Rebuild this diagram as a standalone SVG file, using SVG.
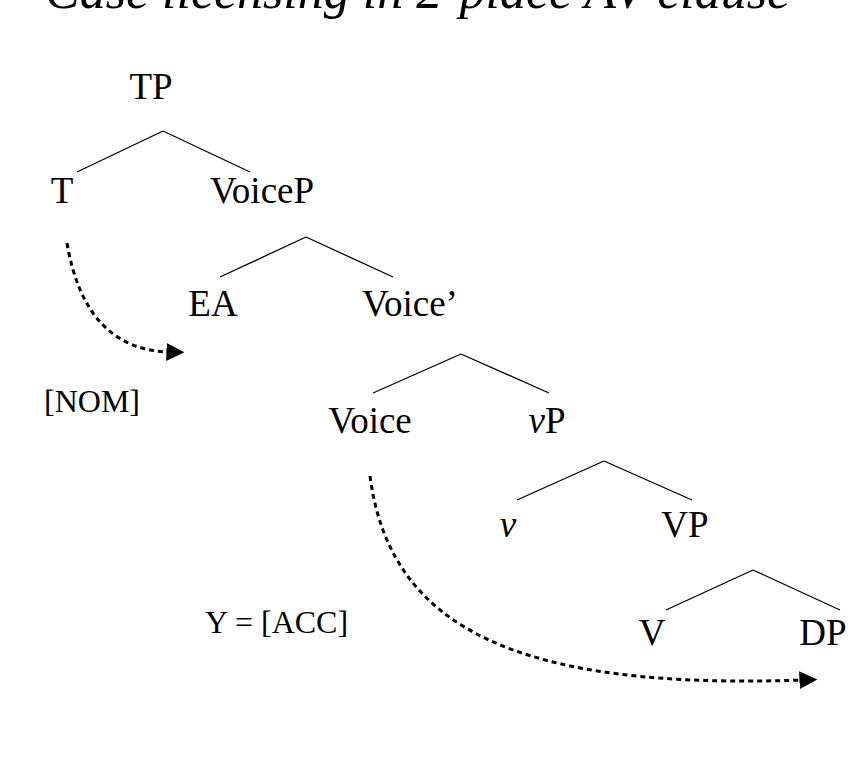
<svg xmlns="http://www.w3.org/2000/svg" width="861" height="758" viewBox="0 0 861 758">
<style>
text{font-family:"Liberation Serif","Times New Roman",serif;fill:#000}
.n{font-size:37px;text-anchor:middle}
.l{font-size:32px}
.e line{stroke:#000;stroke-width:1.3}
.a{fill:none;stroke:#000;stroke-width:3;stroke-dasharray:5 4}
</style>
<defs><marker id="ah2" viewBox="0 0 10 10" refX="2" refY="5" markerWidth="6" markerHeight="6" orient="auto"><path d="M0,0 L10,5 L0,10 z" fill="#000"/></marker></defs>
<rect width="861" height="758" fill="#fff"/>
<text x="45" y="8" font-size="52" font-style="italic">Case licensing in 2-place AV clause</text>
<g class="e">
<line x1="163" y1="131" x2="77" y2="172"/><line x1="163" y1="131" x2="250" y2="172"/>
<line x1="306" y1="237" x2="220" y2="277"/><line x1="306" y1="237" x2="393" y2="277"/>
<line x1="461" y1="354" x2="373" y2="393"/><line x1="461" y1="354" x2="549" y2="393"/>
<line x1="604" y1="461" x2="517" y2="500"/><line x1="604" y1="461" x2="692" y2="500"/>
<line x1="753" y1="570" x2="666" y2="610"/><line x1="753" y1="570" x2="840" y2="610"/>
<path class="a" d="M67,243 Q85,350 170,352" marker-end="url(#ah2)"/>
<path class="a" d="M370,476 C390,630 520,690 803,680" marker-end="url(#ah2)"/>
</g>
<g id="TP"><text class="n" x="151" y="99">TP</text></g>
<g id="T"><text class="n" x="62" y="203">T</text></g>
<g id="VoiceP"><text class="n" x="262" y="203">VoiceP</text></g>
<g id="EA"><text class="n" x="213" y="316">EA</text></g>
<g id="VoiceBar"><text class="n" x="410" y="316">Voice’</text></g>
<g id="Voice"><text class="n" x="370" y="433">Voice</text></g>
<g id="vP"><text class="n" x="547" y="433"><tspan font-style="italic">v</tspan>P</text></g>
<g id="v"><text class="n" x="508" y="537" font-style="italic">v</text></g>
<g id="VP"><text class="n" x="685" y="537">VP</text></g>
<g id="V"><text class="n" x="652" y="645">V</text></g>
<g id="DP"><text class="n" x="823" y="645">DP</text></g>
<text class="l" x="44" y="412">[NOM]</text>
<text class="l" x="205" y="633">Y = [ACC]</text>
</svg>
